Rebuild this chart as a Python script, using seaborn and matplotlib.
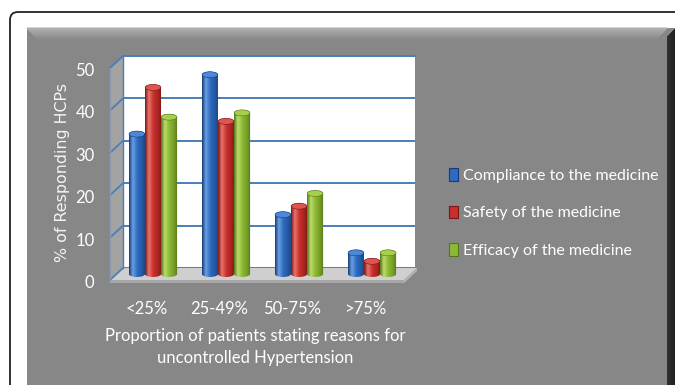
import numpy as np
import pandas as pd
import seaborn as sns
import matplotlib
matplotlib.use("Agg")
import matplotlib.pyplot as plt
from matplotlib.patches import Polygon, Ellipse, PathPatch, Patch, FancyBboxPatch, Rectangle
from matplotlib.path import Path
from matplotlib.transforms import ScaledTranslation
from matplotlib.colors import to_rgb

# ---- data -------------------------------------------------------------
ranges = ["<25%", "25-49%", "50-75%", ">75%"]
reasons = ["Compliance to the medicine", "Safety of the medicine", "Efficacy of the medicine"]
compliance = [33, 47, 14, 5]
safety = [44, 36, 16, 3]
efficacy = [37, 38, 19, 5]
y_ticks = [0, 10, 20, 30, 40, 50]
x_title = "Proportion of patients stating reasons for\nuncontrolled Hypertension"
y_title = "% of Responding HCPs"

df = pd.DataFrame({
    "range": ranges * 3,
    "reason": [reasons[0]] * 4 + [reasons[1]] * 4 + [reasons[2]] * 4,
    "value": compliance + safety + efficacy,
})

# ---- styling ----------------------------------------------------------
sns.set_style("white")
plt.rcParams["font.family"] = ["Lato", "DejaVu Sans"]

base = {reasons[0]: "#2e6bc0", reasons[1]: "#c9302c", reasons[2]: "#8cb833"}
dark = {reasons[0]: "#163c78", reasons[1]: "#7a1613", reasons[2]: "#55751a"}
light = {reasons[0]: "#6a9fe2", reasons[1]: "#e8736c", reasons[2]: "#bcdc6a"}
capc = {reasons[0]: "#4c88d8", reasons[1]: "#de5550", reasons[2]: "#a8cf4c"}
grid_blue = "#4a7ebb"
panel = "#878787"

W, H = 675, 385
fig = plt.figure(figsize=(W / 100, H / 100), dpi=100)
fig.patch.set_facecolor("white")

# background canvas in pixel coordinates
bg = fig.add_axes([0, 0, 1, 1], zorder=0)
bg.set_xlim(0, W)
bg.set_ylim(H, 0)
bg.axis("off")

# rounded outer frame
bg.add_patch(FancyBboxPatch((10, 12), 700, 420, boxstyle="round,pad=0,rounding_size=8",
                            facecolor="white", edgecolor="#222222", lw=1.3))
# grey panel with bevelled top and dark right edge
bg.add_patch(Rectangle((27, 28), 660, 400, facecolor=panel, edgecolor="none"))
for i in range(12):
    g = 0.70 - 0.16 * i / 11
    bg.add_patch(Polygon([(27 + i, 28 + i), (667 - i, 28 + i), (667 - i - 1, 29 + i), (28 + i, 29 + i)],
                         closed=True, facecolor=(g, g, g), edgecolor=(g, g, g), lw=0.8))
for i in range(8):
    g = 0.13 + 0.06 * (7 - i) / 7
    bg.add_patch(Rectangle((667 + i, 28 + (8 - i)), 1.05, 400, facecolor=(g, g, g), edgecolor="none"))

# plot-box geometry (pixels)
bx0, bx1, by_top, by_bot = 123, 415, 56, 268
dxf, dyf = 13, 12              # depth offset of the front plane
ppu = (by_bot - by_top) / 50.0  # pixels per unit

# side wall
bg.add_patch(Polygon([(bx0 - dxf, by_top + dyf), (bx0, by_top), (bx0, by_bot), (bx0 - dxf, by_bot + dyf)],
                     closed=True, facecolor="#a3a3a3", edgecolor="none"))
for v in y_ticks:
    yb = by_bot - v * ppu
    bg.plot([bx0 - dxf, bx0], [yb + dyf, yb], color=grid_blue, lw=1.3)
bg.plot([bx0 - dxf, bx0 - dxf], [by_top + dyf, by_bot + dyf], color="#8c9bb0", lw=1.0)
# floor
bg.add_patch(Polygon([(bx0 - dxf, by_bot + dyf), (bx0, by_bot), (bx1 + 2, by_bot), (bx1 + 2 - dxf, by_bot + dyf)],
                     closed=True, facecolor="#cfcfcf", edgecolor="none"))
bg.add_patch(Polygon([(bx0 - dxf, by_bot + dyf), (bx1 + 2 - dxf, by_bot + dyf), (bx1 + 2 - dxf, by_bot + dyf + 3),
                      (bx0 - dxf, by_bot + dyf + 3)], closed=True, facecolor="#a6a6a6", edgecolor="none"))
bg.add_patch(Polygon([(bx1 + 2 - dxf, by_bot + dyf), (bx1 + 2, by_bot), (bx1 + 2, by_bot + 3),
                      (bx1 + 2 - dxf, by_bot + dyf + 3)], closed=True, facecolor="#b4b4b4", edgecolor="none"))

# back wall = main axes
ax = fig.add_axes([bx0 / W, 1 - by_bot / H, (bx1 - bx0) / W, (by_bot - by_top) / H], zorder=2)
ax.set_facecolor("white")

sns.barplot(data=df, x="range", y="value", hue="reason", order=ranges, hue_order=reasons,
            palette=base, saturation=1, width=0.66, legend=False, ax=ax)

ax.set_ylim(0, 50)
ax.set_xlim(-0.5, 3.5)
ax.set_yticks(y_ticks)
ax.grid(axis="y", color=grid_blue, lw=1.4)
ax.set_axisbelow(True)
for s in ["right", "bottom"]:
    ax.spines[s].set_visible(False)
ax.spines["top"].set_color(grid_blue)
ax.spines["top"].set_linewidth(1.4)
ax.spines["left"].set_color(grid_blue)
ax.spines["left"].set_linewidth(1.0)
ax.set_xlabel("")
ax.set_ylabel("")

# cylinders sit half-way between back wall and front edge
mid = ScaledTranslation(-6.5 / 100, -6 / 100, fig.dpi_scale_trans)
off = ax.transData + mid
cap_h = 6.0 / ppu

stops = [0.0, 0.22, 0.5, 0.8, 1.0]
for p in list(ax.patches):
    fc = p.get_facecolor()[:3]
    key = min(base, key=lambda k: np.sum((np.array(to_rgb(base[k])) - np.array(fc)) ** 2))
    x0, w, h = p.get_x(), p.get_width(), p.get_height()
    p.set_transform(off)
    p.set_clip_on(False)
    p.set_facecolor("none")
    p.set_edgecolor("none")
    mid_dark = tuple(0.55 * np.array(to_rgb(base[key])) + 0.45 * np.array(to_rgb(dark[key])))
    cols = [to_rgb(dark[key]), to_rgb(light[key]), to_rgb(base[key]), mid_dark, to_rgb(dark[key])]
    u = np.linspace(0, 1, 48)
    grad = np.stack([np.interp(u, stops, [c[i] for c in cols]) for i in range(3)], axis=-1)[None, :, :]
    cx = x0 + w / 2
    t1 = np.linspace(np.pi, 2 * np.pi, 30)
    t2 = np.linspace(0, np.pi, 30)
    pts = [(cx + w / 2 * np.cos(t), cap_h / 2 * np.sin(t)) for t in t1]
    pts += [(cx + w / 2 * np.cos(t), h + cap_h / 2 * np.sin(t)) for t in t2]
    clip = PathPatch(Path(pts + [pts[0]], closed=True), transform=off, facecolor="none", edgecolor="none")
    im = ax.imshow(grad, extent=[x0, x0 + w, -cap_h, h + cap_h], aspect="auto",
                   transform=off, zorder=3, interpolation="bilinear")
    im.set_clip_path(clip)
    im.set_clip_box(fig.bbox)
    ax.add_patch(Ellipse((cx, h), w * 0.98, cap_h, transform=off, facecolor=capc[key],
                         edgecolor=dark[key], lw=0.4, zorder=4, clip_on=False))

ax.set_xlim(-0.5, 3.5)
ax.set_ylim(0, 50)

# tick labels live on the front plane
ax.tick_params(axis="both", length=0, labelcolor="white", labelsize=12)
ax.tick_params(axis="y", pad=20.5)
ax.tick_params(axis="x", pad=15)
ax.set_xticks(range(len(ranges)))
ax.set_xticklabels(ranges)
for lbl in ax.get_xticklabels():
    lbl.set_transform(lbl.get_transform() + ScaledTranslation(-dxf / 100, -dyf / 100, fig.dpi_scale_trans))
for lbl in ax.get_yticklabels():
    lbl.set_transform(lbl.get_transform() + ScaledTranslation(0, -(dyf + 1.5) / 100, fig.dpi_scale_trans))

fig.text(255 / W, 1 - 347 / H, x_title, ha="center", va="center", color="white",
         fontsize=12, linespacing=1.4)
fig.text(62 / W, 1 - 172 / H, y_title, ha="center", va="center", rotation=90, color="#f4f4f4",
         fontsize=11.4, family=["DejaVu Sans"])

handles = [Patch(facecolor=base[r], edgecolor=dark[r], lw=0.8) for r in reasons]
fig.legend(handles, reasons, loc="center left", bbox_to_anchor=(449 / W, 1 - 213 / H),
           frameon=False, labelcolor="white", fontsize=11.5, handlelength=0.55, handleheight=0.85,
           handletextpad=0.3, labelspacing=1.4, borderpad=0, borderaxespad=0)

fig.savefig("out.png", dpi=100, facecolor="white")
